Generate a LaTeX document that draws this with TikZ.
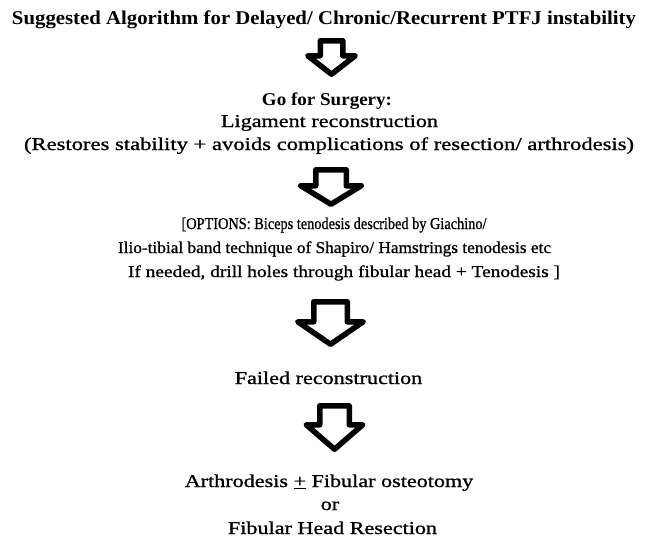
\documentclass[tikz,border=0pt]{standalone}
\usepackage{fontspec}
\setmainfont{Liberation Serif}
\newfontfamily\bodyfont[FakeBold=0.9]{Liberation Serif}
\usepackage{graphicx}
\newcommand\fitline[2]{\resizebox{#1pt}{\height}{#2}}
\newcommand\wl[1]{\scalebox{1.23}[1]{#1}}
\begin{document}
\begin{tikzpicture}[x=1pt,y=-1pt,
  txt/.style={inner sep=0pt,anchor=base,font=\fontsize{18}{20}\bodyfont},
  opt/.style={inner sep=0pt,anchor=base,font=\fontsize{16.5}{20}\bodyfont},
  ttl/.style={inner sep=0pt,anchor=base,font=\fontsize{19.5}{22}\selectfont\bfseries},
  blk/.style={draw=black,line width=5.5pt,line join=round,fill=white}]
\useasboundingbox (0,0) rectangle (647,544);
\fill[white] (0,0) rectangle (647,544);
\newcommand\blockarrow[6]{% cx, top, shaft half, head half, shoulder, tip
  \draw[blk] (#1-#3,#2) -- (#1+#3,#2) -- (#1+#3,#5) -- (#1+#4,#5) -- (#1,#6)
     -- (#1-#4,#5) -- (#1-#3,#5) -- cycle;}
% texts
\node[ttl] (t0) at (324,24) {\fitline{624}{Suggested Algorithm for Delayed/ Chronic/Recurrent PTFJ instability}};
\node[txt,font=\fontsize{18}{20}\selectfont\bfseries] (t1) at (327,105) {\fitline{130}{Go for Surgery:}};
\node[txt] (t2) at (329.5,127) {\wl{Ligament reconstruction}};
\node[txt] (t3) at (329,150) {\fitline{610}{(Restores stability + avoids complications of resection/ arthrodesis)}};
\node[opt] (t4) at (334,229) {\fitline{305}{[OPTIONS: Biceps tenodesis described by Giachino/}};
\node[opt] (t5) at (334.5,253) {\fitline{433}{Ilio-tibial band technique of Shapiro/ Hamstrings tenodesis etc}};
\node[opt] (t6) at (344,277) {\fitline{432}{If needed, drill holes through fibular head + Tenodesis ]}};
\node[txt] (t7) at (328.5,384) {\wl{Failed reconstruction}};
\node[txt] (t8) at (329,487) {\wl{Arthrodesis \underline{+} Fibular osteotomy}};
\node[txt] (t9) at (330,510) {\wl{or}};
\node[txt] (t10) at (332.5,534) {\wl{Fibular Head Resection}};
% block arrows
\blockarrow{331.5}{40.75}{11.25}{23.75}{55.75}{74.25}
\blockarrow{331}{169.75}{15.25}{30.25}{185.75}{204.25}
\blockarrow{330.5}{301.75}{16.75}{32.75}{321.75}{344.25}
\blockarrow{334.5}{405.75}{14.75}{28.25}{424.75}{449.25}
\end{tikzpicture}
\end{document}
